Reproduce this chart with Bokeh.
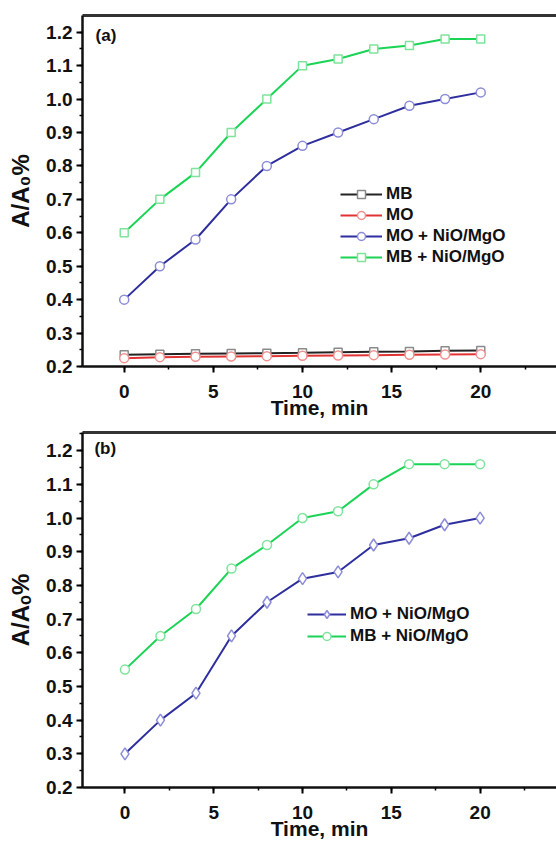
from bokeh.plotting import figure
from bokeh.models import (Legend, LegendItem, Label, LinearAxis, Range1d,
                          SingleIntervalTicker, PrintfTickFormatter, FixedTicker)
from bokeh.layouts import column
from bokeh.embed import file_html
from bokeh.resources import INLINE

# Sampling times (min)
time = [0, 2, 4, 6, 8, 10, 12, 14, 16, 18, 20]

# Panel (a)
a_mb = [0.235, 0.237, 0.238, 0.239, 0.240, 0.241, 0.243, 0.244, 0.245, 0.247, 0.248]
a_mo = [0.225, 0.228, 0.229, 0.230, 0.231, 0.232, 0.233, 0.234, 0.235, 0.236, 0.237]
a_mo_cat = [0.40, 0.50, 0.58, 0.70, 0.80, 0.86, 0.90, 0.94, 0.98, 1.00, 1.02]
a_mb_cat = [0.60, 0.70, 0.78, 0.90, 1.00, 1.10, 1.12, 1.15, 1.16, 1.18, 1.18]

# Panel (b)
b_mo_cat = [0.30, 0.40, 0.48, 0.65, 0.75, 0.82, 0.84, 0.92, 0.94, 0.98, 1.00]
b_mb_cat = [0.55, 0.65, 0.73, 0.85, 0.92, 1.00, 1.02, 1.10, 1.16, 1.16, 1.16]

FONT = "Liberation Sans"
GREEN, GREEN_M = "#1bd455", "#7fe39d"
BLUE, BLUE_M = "#2e2e9e", "#8c8cd8"
RED, RED_M = "#e03434", "#f09090"
BLACK, BLACK_M = "#222222", "#8a8a8a"


def make_fig(height, left, top, bottom, xr, yr, ylab):
    p = figure(width=556, height=height, x_range=Range1d(*xr), y_range=Range1d(*yr),
               output_backend="svg", toolbar_location=None,
               min_border_left=left, min_border_right=0,
               min_border_top=top, min_border_bottom=bottom)
    p.outline_line_color = None
    p.grid.visible = False
    p.background_fill_color = "white"
    p.border_fill_color = "white"

    p.xaxis.ticker = SingleIntervalTicker(interval=5, num_minor_ticks=2)
    p.yaxis.ticker = SingleIntervalTicker(interval=0.1, num_minor_ticks=2)
    p.yaxis.formatter = PrintfTickFormatter(format="%.1f")
    for ax in (p.xaxis, p.yaxis):
        ax.axis_line_width = 2.5
        ax.axis_line_color = "#111111"
        ax.major_tick_line_width = 2
        ax.minor_tick_line_width = 1.5
        ax.major_tick_in = 0
        ax.major_tick_out = 6
        ax.minor_tick_in = 0
        ax.minor_tick_out = 3
        ax.major_label_text_font = FONT
        ax.major_label_text_font_style = "bold"
        ax.major_label_text_font_size = "19px"
        ax.major_label_text_color = "#111111"
        ax.axis_label_text_font = FONT
        ax.axis_label_text_font_style = "bold"
        ax.axis_label_text_color = "#111111"
    p.yaxis.major_label_standoff = 4
    p.xaxis.major_label_standoff = 12
    p.xaxis.axis_label = "Time, min"
    p.xaxis.axis_label_text_font_size = "21px"
    p.xaxis.axis_label_standoff = -5
    p.yaxis.axis_label = ylab
    p.yaxis.axis_label_text_font_size = "24px"
    p.yaxis.axis_label_standoff = 9

    top_ax = LinearAxis(ticker=FixedTicker(ticks=[]), axis_line_width=3,
                        axis_line_color="#333333", major_tick_line_color=None,
                        minor_tick_line_color=None, major_label_text_font_size="0px")
    p.add_layout(top_ax, "above")
    return p


def series(p, y, color, mcolor, marker, size):
    r1 = p.line(time, y, line_color=color, line_width=2)
    r2 = p.scatter(time, y, marker=marker, size=size, line_color=mcolor,
                   line_width=1.5, fill_color="white")
    return [r1, r2]


def legend(p, items, loc, gw, spacing):
    lg = Legend(items=[LegendItem(label=t, renderers=r) for t, r in items],
                location=loc, padding=0, margin=0, spacing=spacing,
                glyph_width=gw, glyph_height=20, label_height=20, label_standoff=4,
                label_text_font=FONT, label_text_font_style="bold",
                label_text_font_size="17px", label_text_color="#111111",
                border_line_alpha=0, background_fill_alpha=0)
    p.add_layout(lg)


# ---- panel (a)
pa = make_fig(421, 82, 15, 55, (-2.34, 24.25), (0.2, 1.25), "A/A\u2080%")
r_mb = series(pa, a_mb, BLACK, BLACK_M, "square", 8)
r_mo = series(pa, a_mo, RED, RED_M, "circle", 9)
r_moc = series(pa, a_mo_cat, BLUE, BLUE_M, "circle", 9)
r_mbc = series(pa, a_mb_cat, GREEN, GREEN_M, "square", 8)
legend(pa, [("MB", r_mb), ("MO", r_mo), ("MO + NiO/MgO", r_moc),
            ("MB + NiO/MgO", r_mbc)], (258, 99), 42, 1)
pa.add_layout(Label(x=-1.61, y=1.19, text="(a)", text_baseline="middle",
                    text_font=FONT, text_font_style="bold", text_font_size="17px",
                    text_color="#111111"))

# ---- panel (b)
pb = make_fig(421, 78, 11, 55, (-2.39, 24.3), (0.2, 1.254), "A/A\u2092%")
r_bmo = series(pb, b_mo_cat, BLUE, BLUE_M, "diamond", 12)
r_bmb = series(pb, b_mb_cat, GREEN, GREEN_M, "circle", 9)
legend(pb, [("MO + NiO/MgO", r_bmo), ("MB + NiO/MgO", r_bmb)], (225, 141), 39, 2)
pb.add_layout(Label(x=-1.72, y=1.2056, text="(b)", text_baseline="middle",
                    text_font=FONT, text_font_style="bold", text_font_size="17px",
                    text_color="#111111"))

layout = column(pa, pb, spacing=0)
open("out.html", "w").write(file_html(layout, INLINE))
